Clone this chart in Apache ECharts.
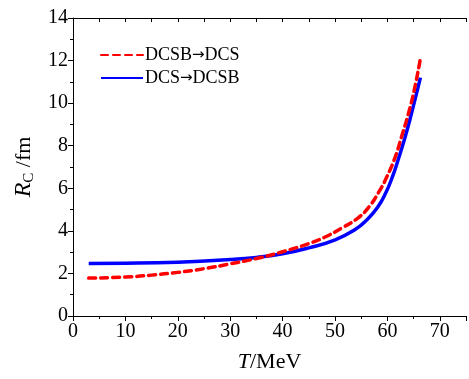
<!DOCTYPE html>
<html>
<head>
<meta charset="utf-8">
<script src="https://cdn.jsdelivr.net/npm/echarts@6/dist/echarts.min.js"></script>
<style>
html,body{margin:0;padding:0;background:#fff;}
#chart{width:469px;height:379px;}
</style>
</head>
<body>
<div id="chart"></div>
<script>
// Data
var seriesNames = ['DCSB\u2192DCS', 'DCS\u2192DCSB'];
var redT = [3, 10, 15, 20, 25, 30, 35, 40, 45, 48, 51.2, 54.3, 56.5, 58.4, 59.9, 61.5, 62.7, 64.0, 65.2, 66.3];
var redR = [1.78, 1.83, 1.92, 2.05, 2.22, 2.45, 2.7, 3.02, 3.4, 3.7, 4.12, 4.59, 5.13, 5.84, 6.54, 7.48, 8.42, 9.5, 10.7, 12.1];
var blueT = [3, 10, 20, 30, 35, 40, 45, 49.9, 53.7, 56.2, 58.1, 59.6, 60.9, 62.1, 63.4, 64.6, 66.3];
var blueR = [2.47, 2.48, 2.53, 2.65, 2.75, 2.92, 3.2, 3.57, 4.04, 4.55, 5.1, 5.74, 6.5, 7.38, 8.42, 9.52, 11.2];
var xTicks = [0, 10, 20, 30, 40, 50, 60, 70];
var yTicks = [0, 2, 4, 6, 8, 10, 12, 14];

function pairs(xs, ys) { return xs.map(function (x, i) { return [x, ys[i]]; }); }

var font = 'Liberation Serif, Times New Roman, serif';
var chart = echarts.init(document.getElementById('chart'), null, {renderer: 'canvas'});
chart.setOption({
  animation: false,
  backgroundColor: '#fff',
  grid: {left: 73, top: 18, width: 401, height: 298, containLabel: false},
  legend: {
    orient: 'vertical', left: 95, top: 41, itemWidth: 42, itemHeight: 14, itemGap: 5,
    itemStyle: {opacity: 0},
    textStyle: {fontFamily: font, fontSize: 18, color: '#000', padding: [0, 0, 0, -3],
      rich: {
        a: {fontFamily: font, fontSize: 18, color: '#000'},
        b: {fontFamily: 'DejaVu Sans', fontSize: 15, color: '#000'}
      }},
    formatter: function (name) {
      var p = name.split('\u2192');
      return '{a|' + p[0] + '}{b|\u2192}{a|' + p[1] + '}';
    },
    data: seriesNames
  },
  xAxis: [{
    type: 'value', position: 'bottom', min: 0, max: 75, interval: 10,
    axisLine: {show: true, onZero: false, lineStyle: {color: '#000', width: 1}},
    axisTick: {show: true, inside: false, length: 5, lineStyle: {color: '#000'}},
    minorTick: {show: true, splitNumber: 2, length: 3, lineStyle: {color: '#000'}},
    splitLine: {show: false},
    axisLabel: {fontFamily: font, fontSize: 20, color: '#000', margin: 6,
      formatter: function (v) { return xTicks.indexOf(v) >= 0 ? String(v) : ''; }},
    name: '{i|T}{n|/MeV}', nameLocation: 'middle', nameGap: 35,
    nameTextStyle: {rich: {
      i: {fontFamily: font, fontStyle: 'italic', fontSize: 22, color: '#000'},
      n: {fontFamily: font, fontSize: 22, color: '#000'}
    }}
  }, {
    type: 'value', position: 'top', min: 0, max: 75, interval: 5,
    axisLine: {show: true, onZero: false, lineStyle: {color: '#000', width: 1}},
    axisTick: {show: true, inside: true, length: 4, lineStyle: {color: '#000'}},
    axisLabel: {show: false}, splitLine: {show: false}
  }],
  yAxis: [{
    type: 'value', min: 0, max: 14, interval: 2,
    axisLine: {show: true, onZero: false, lineStyle: {color: '#000', width: 1}},
    axisTick: {show: true, inside: false, length: 5, lineStyle: {color: '#000'}},
    minorTick: {show: true, splitNumber: 2, length: 3, lineStyle: {color: '#000'}},
    splitLine: {show: false},
    axisLabel: {fontFamily: font, fontSize: 20, color: '#000', margin: 5,
      formatter: function (v) { return yTicks.indexOf(v) >= 0 ? String(v) : ''; }},
    name: '{i|R}{s|C}{n| /fm}', nameLocation: 'middle', nameGap: 36, nameRotate: 90,
    nameTextStyle: {rich: {
      i: {fontFamily: font, fontStyle: 'italic', fontSize: 24, color: '#000', lineHeight: 26},
      s: {fontFamily: font, fontSize: 15, color: '#000', verticalAlign: 'bottom', padding: [10, 0, 0, 0]},
      n: {fontFamily: font, fontSize: 22, color: '#000'}
    }}
  }],
  series: [{
    name: seriesNames[0], type: 'line', xAxisIndex: 0, yAxisIndex: 0,
    data: pairs(redT, redR), smooth: 0.5, showSymbol: false, symbol: 'none',
    lineStyle: {color: '#ff0000', width: 3.5, type: [7, 5], cap: 'round'},
    itemStyle: {color: '#ff0000'}, z: 3
  }, {
    name: seriesNames[1], type: 'line', xAxisIndex: 0, yAxisIndex: 0,
    data: pairs(blueT, blueR), smooth: 0.5, showSymbol: false, symbol: 'none',
    lineStyle: {color: '#0000ff', width: 3.5},
    itemStyle: {color: '#0000ff'}, z: 2
  }]
});
</script>
</body>
</html>
